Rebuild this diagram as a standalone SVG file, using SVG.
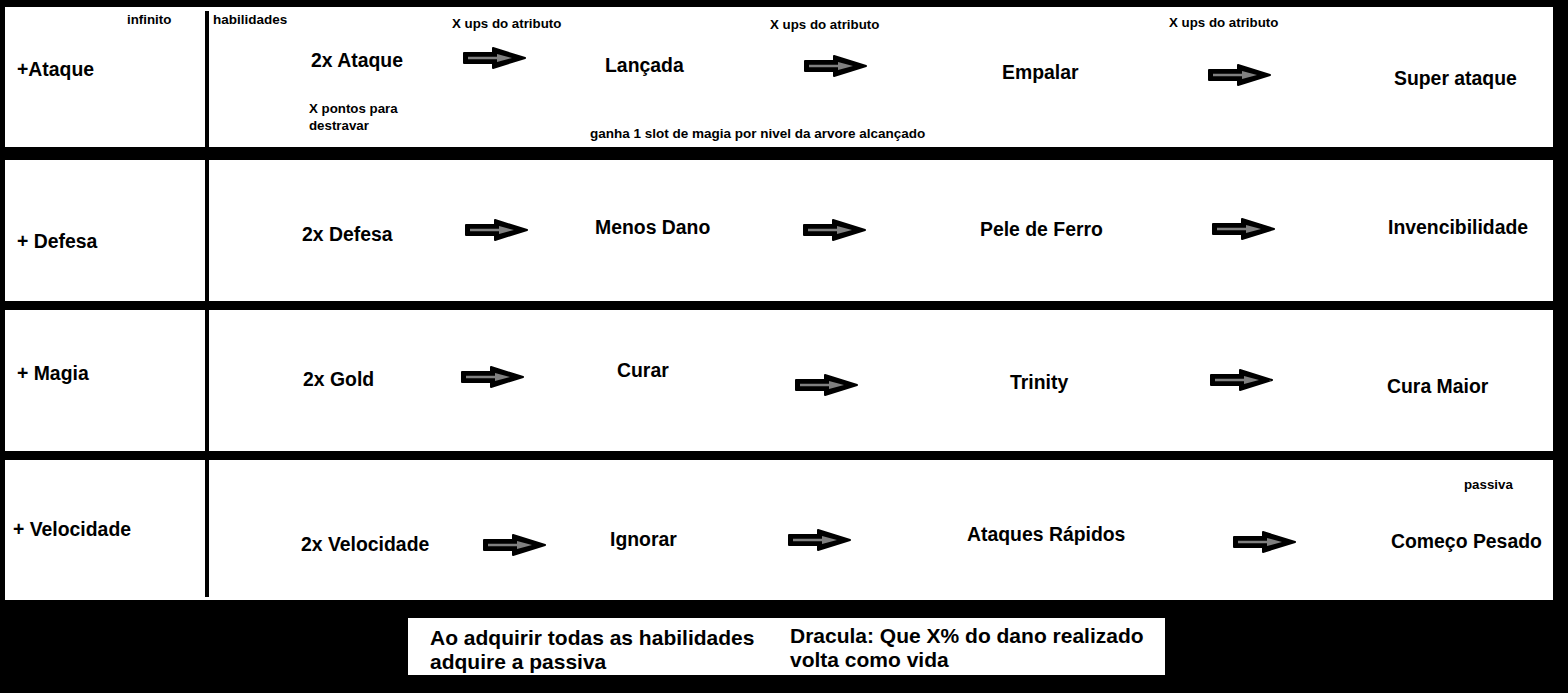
<svg xmlns="http://www.w3.org/2000/svg" width="1568" height="693" viewBox="0 0 1568 693">
<style>
text{font-family:"Liberation Sans",Arial,sans-serif;font-weight:bold;fill:#000}
.s{font-size:13.3px}
.w{font-size:13.5px}
.m{font-size:19.4px}
.b{font-size:21px}
.panel{fill:#fff}
</style>
<defs>
<g id="arr">
<path d="M1,-5 L30,-5 L30,-10 L62,0 L30,10 L30,5 L1,5 Z" fill="#000" stroke="#000" stroke-width="2" stroke-linejoin="round"/>
<line x1="5" y1="0" x2="40" y2="0" stroke="#808080" stroke-width="2.5"/>
<path d="M34,-4 L49,0 L34,4 Z" fill="#808080"/>
</g>
</defs>
<rect x="0" y="0" width="1568" height="693" fill="#000"/>
<g id="rows">
<rect id="row1" class="panel" x="5" y="7" width="1548" height="140"/>
<rect id="row2" class="panel" x="5" y="160" width="1548" height="141"/>
<rect id="row3" class="panel" x="5" y="310" width="1548" height="141"/>
<rect id="row4" class="panel" x="5" y="460" width="1548" height="140"/>
<rect id="divider" x="205" y="11" width="4" height="586" fill="#000"/>
</g>
<g id="headers">
<text class="s" x="127" y="24">infinito</text>
<text class="w" x="213" y="24">habilidades</text>
<text class="m" x="17" y="76">+Ataque</text>
<text class="m" x="17" y="248">+ Defesa</text>
<text class="m" x="17" y="380">+ Magia</text>
<text class="m" x="13" y="536">+ Velocidade</text>
</g>
<g id="n-2xataque"><text class="m" x="311" y="67">2x Ataque</text>
<text class="s" x="309" y="113">X pontos para</text><text class="s" x="309" y="130">destravar</text></g>
<g id="n-lancada"><text class="m" x="605" y="72">Lançada</text></g>
<g id="n-empalar"><text class="m" x="1002" y="79">Empalar</text></g>
<g id="n-superataque"><text class="m" x="1394" y="85">Super ataque</text></g>
<g id="notes1">
<text class="s" x="452" y="28">X ups do atributo</text>
<text class="s" x="770" y="29">X ups do atributo</text>
<text class="s" x="1169" y="27">X ups do atributo</text>
<text class="w" x="590" y="138">ganha 1 slot de magia por nivel da arvore alcançado</text>
</g>
<g id="n-2xdefesa"><text class="m" x="302" y="241">2x Defesa</text></g>
<g id="n-menosdano"><text class="m" x="595" y="234">Menos Dano</text></g>
<g id="n-peledeferro"><text class="m" x="980" y="236">Pele de Ferro</text></g>
<g id="n-invencibilidade"><text class="m" x="1388" y="234">Invencibilidade</text></g>
<g id="n-2xgold"><text class="m" x="303" y="386">2x Gold</text></g>
<g id="n-curar"><text class="m" x="617" y="377">Curar</text></g>
<g id="n-trinity"><text class="m" x="1010" y="389">Trinity</text></g>
<g id="n-curamaior"><text class="m" x="1387" y="393">Cura Maior</text></g>
<g id="n-2xvelocidade"><text class="m" x="301" y="551">2x Velocidade</text></g>
<g id="n-ignorar"><text class="m" x="610" y="546">Ignorar</text></g>
<g id="n-ataquesrapidos"><text class="m" x="967" y="541">Ataques Rápidos</text></g>
<g id="n-comecopesado"><text class="m" x="1391" y="548">Começo Pesado</text><text class="s" x="1464" y="489">passiva</text></g>
<g id="connectors">
<use href="#arr" x="463" y="58"/>
<use href="#arr" x="804" y="66"/>
<use href="#arr" x="1208" y="75"/>
<use href="#arr" x="465" y="230"/>
<use href="#arr" x="803" y="230"/>
<use href="#arr" x="1212" y="229"/>
<use href="#arr" x="461" y="377"/>
<use href="#arr" x="795" y="385"/>
<use href="#arr" x="1210" y="380"/>
<use href="#arr" x="483" y="545"/>
<use href="#arr" x="788" y="540"/>
<use href="#arr" x="1233" y="542"/>
</g>
<g id="passive-box">
<rect class="panel" x="408" y="618" width="757" height="57"/>
<text class="b" x="430" y="645">Ao adquirir todas as habilidades</text>
<text class="b" x="430" y="669">adquire a passiva</text>
<text class="b" x="790" y="643">Dracula: Que X% do dano realizado</text>
<text class="b" x="790" y="667">volta como vida</text>
</g>
</svg>
